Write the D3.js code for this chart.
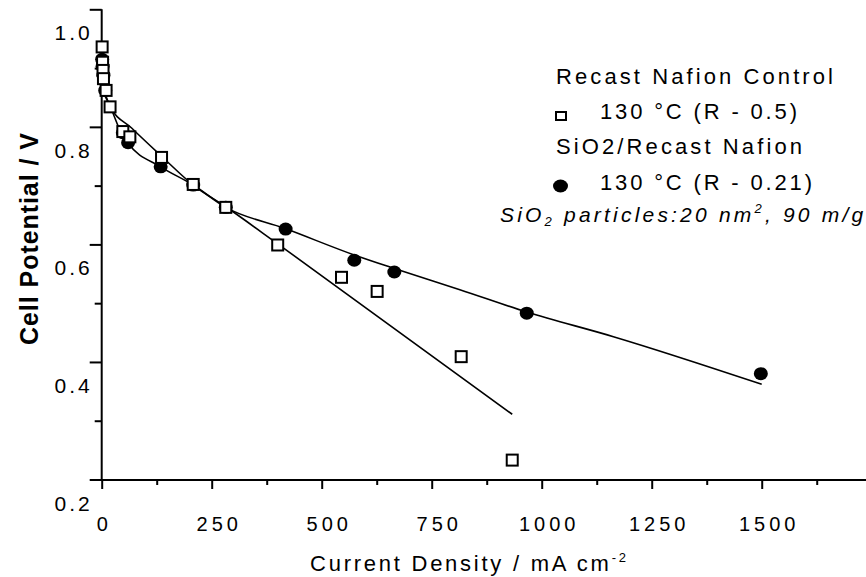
<!DOCTYPE html>
<html>
<head>
<meta charset="utf-8">
<script src="https://cdn.jsdelivr.net/npm/d3@7"></script>
<style>
  body { margin: 0; background: #fff; }
  text { font-family: "Liberation Sans", Arial, sans-serif; fill: #000; }
</style>
</head>
<body>
<script>
// values (current density in mA cm-2, potential in V)
const controlJ = [1, 2, 3, 4, 10, 19, 48, 64, 136, 208, 282, 400, 545, 626, 817, 933];
const controlV = [0.936, 0.910, 0.896, 0.882, 0.862, 0.834, 0.792, 0.783, 0.748, 0.702, 0.663, 0.599, 0.544, 0.520, 0.409, 0.233];

const siJ = [1, 2, 4, 8, 48, 60, 134, 208, 282, 418, 574, 665, 966, 1498];
const siV = [0.915, 0.903, 0.888, 0.862, 0.790, 0.773, 0.732, 0.701, 0.663, 0.626, 0.573, 0.553, 0.483, 0.380];

// fitted curves as drawn in the figure
const controlFitJ = [3, 19, 68, 136, 208, 282, 400, 933];
const controlFitV = [0.866, 0.835, 0.798, 0.750, 0.701, 0.664, 0.601, 0.311];
const siFitJ = [3, 19, 45, 60, 134, 208, 282, 417, 574, 665, 814, 966, 1163, 1500];
const siFitV = [0.859, 0.835, 0.789, 0.772, 0.732, 0.701, 0.663, 0.627, 0.582, 0.559, 0.523, 0.485, 0.443, 0.362];

const xMajor = [0, 250, 500, 750, 1000, 1250, 1500];
const xMinor = [125, 375, 625, 875, 1125, 1375, 1625];
const yMajor = [0.2, 0.4, 0.6, 0.8, 1.0];
const yMinor = [0.3, 0.5, 0.7, 0.9];

var W = 866, H = 577;
var svg = d3.select("body").append("svg")
  .attr("width", W)
  .attr("height", H);

var x = d3.scaleLinear().domain([0, 1737]).range([101.7, 866]);
var y = d3.scaleLinear().domain([0.2, 1.0]).range([479.5, 9.3]);

var zip = function(a, b) { return a.map(function(v, i) { return {j: v, v: b[i]}; }); };

// x axis: major ticks with labels, minor ticks
var gx = svg.append("g")
  .attr("transform", "translate(0,480)")
  .call(d3.axisBottom(x).tickValues(xMajor).tickSize(9).tickSizeOuter(0)
    .tickFormat(d3.format("d")));
gx.select(".domain").remove();
gx.selectAll("line").attr("stroke-width", 2);
gx.selectAll("text")
  .style("font-size", "20px")
  .attr("letter-spacing", "4px")
  .attr("dx", function(d) { return d === 0 ? 2 : 7; })
  .attr("y", 51)
  .attr("dy", 0);
svg.append("g")
  .attr("transform", "translate(0,480)")
  .call(d3.axisBottom(x).tickValues(xMinor).tickSize(5).tickFormat("").tickSizeOuter(0))
  .call(function(g) { g.select(".domain").remove(); g.selectAll("line").attr("stroke-width", 2); });
svg.append("line")
  .attr("x1", 90).attr("x2", W)
  .attr("y1", 480).attr("y2", 480)
  .attr("stroke", "#000").attr("stroke-width", 2);

// y axis
var gy = svg.append("g")
  .attr("transform", "translate(101.7,0)")
  .call(d3.axisLeft(y).tickValues(yMajor).tickSize(12).tickPadding(0).tickSizeOuter(0)
    .tickFormat(d3.format(".1f")));
gy.select(".domain").remove();
gy.selectAll("line").attr("stroke-width", 2);
gy.selectAll("text")
  .style("font-size", "21px")
  .attr("letter-spacing", "3px")
  .attr("x", -9)
  .attr("dy", 30.5);
svg.append("g")
  .attr("transform", "translate(101.7,0)")
  .call(d3.axisLeft(y).tickValues(yMinor).tickSize(7).tickFormat("").tickSizeOuter(0))
  .call(function(g) { g.select(".domain").remove(); g.selectAll("line").attr("stroke-width", 2); });
svg.append("line")
  .attr("x1", 101.7).attr("x2", 101.7)
  .attr("y1", 9.3).attr("y2", 481)
  .attr("stroke", "#000").attr("stroke-width", 2);

// axis titles
svg.append("text")
  .attr("transform", "translate(38,239) rotate(-90)")
  .attr("text-anchor", "middle")
  .attr("textLength", 212)
  .attr("lengthAdjust", "spacing")
  .style("font-size", "25px")
  .style("font-weight", "bold")
  .text("Cell Potential / V");

var xt = svg.append("text")
  .attr("x", 310).attr("y", 571)
  .attr("textLength", 316)
  .attr("lengthAdjust", "spacing")
  .style("font-size", "22px");
xt.append("tspan").text("Current Density / mA cm");
xt.append("tspan").attr("dy", -9).style("font-size", "13px").text("-2");

// fitted lines
var line = d3.line()
  .x(function(d) { return x(d.j); })
  .y(function(d) { return y(d.v); })
  .curve(d3.curveMonotoneX);

svg.append("path")
  .datum(zip(controlFitJ, controlFitV))
  .attr("d", line)
  .attr("fill", "none").attr("stroke", "#000").attr("stroke-width", 1.6);
svg.append("path")
  .datum(zip(siFitJ, siFitV))
  .attr("d", line)
  .attr("fill", "none").attr("stroke", "#000").attr("stroke-width", 1.6);

// SiO2 points (filled circles)
svg.append("g").selectAll("ellipse")
  .data(zip(siJ, siV))
  .enter().append("ellipse")
  .attr("cx", function(d) { return x(d.j); })
  .attr("cy", function(d) { return y(d.v); })
  .attr("rx", 7).attr("ry", 6.5)
  .attr("fill", "#000");

// control points (open squares), drawn on top
svg.append("g").selectAll("rect")
  .data(zip(controlJ, controlV))
  .enter().append("rect")
  .attr("x", function(d) { return x(d.j) - 5.5; })
  .attr("y", function(d) { return y(d.v) - 5.5; })
  .attr("width", 11).attr("height", 11)
  .attr("fill", "#fff").attr("stroke", "#000").attr("stroke-width", 2);

// legend
var lg = svg.append("g");
lg.append("text").attr("x", 556).attr("y", 83.5)
  .attr("textLength", 277).attr("lengthAdjust", "spacing")
  .style("font-size", "22px").text("Recast Nafion Control");
lg.append("rect").attr("x", 556).attr("y", 112).attr("width", 10).attr("height", 8)
  .attr("fill", "#fff").attr("stroke", "#000").attr("stroke-width", 2);
lg.append("text").attr("x", 600).attr("y", 118.5)
  .attr("textLength", 197).attr("lengthAdjust", "spacing")
  .style("font-size", "22px").text("130 \u00B0C (R - 0.5)");
lg.append("text").attr("x", 556).attr("y", 153.5)
  .attr("textLength", 246).attr("lengthAdjust", "spacing")
  .style("font-size", "22px").text("SiO2/Recast Nafion");
lg.append("ellipse").attr("cx", 560.5).attr("cy", 186).attr("rx", 7.5).attr("ry", 6.5)
  .attr("fill", "#000");
lg.append("text").attr("x", 600).attr("y", 190)
  .attr("textLength", 212).attr("lengthAdjust", "spacing")
  .style("font-size", "22px").text("130 \u00B0C (R - 0.21)");

var note = lg.append("text").attr("x", 500).attr("y", 221.5)
  .style("font-size", "21px").style("font-style", "italic")
  .attr("letter-spacing", "3.2px");
note.append("tspan").text("SiO");
note.append("tspan").attr("dy", 4).style("font-size", "13px").text("2");
note.append("tspan").attr("dy", -4).text(" particles:20 nm");
note.append("tspan").attr("dy", -9).style("font-size", "13px").text("2");
note.append("tspan").attr("dy", 9).text(", 90 m/g");
</script>
</body>
</html>
